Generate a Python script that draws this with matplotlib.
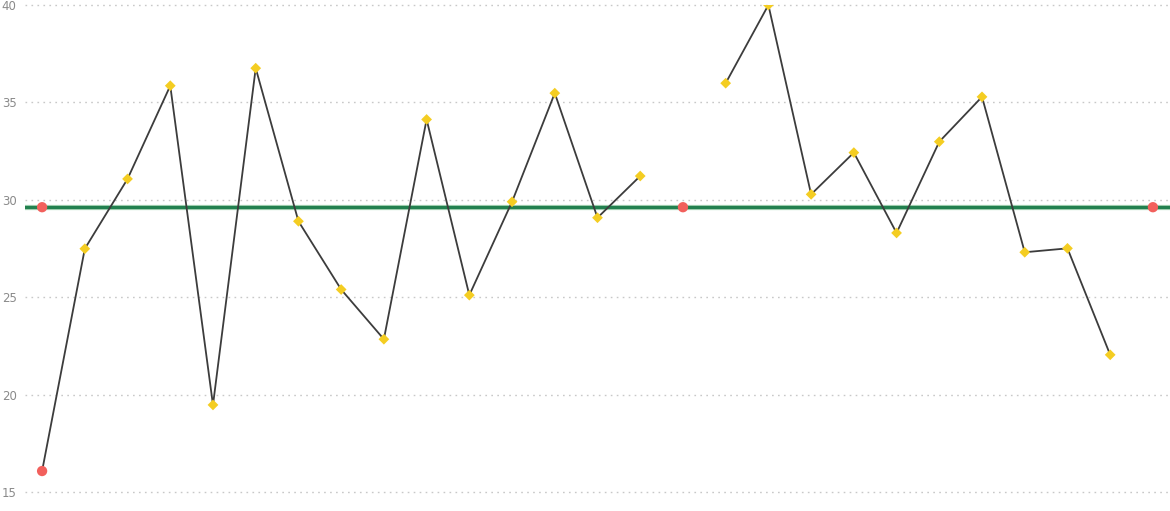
import numpy as np
import matplotlib
matplotlib.use("Agg")
import matplotlib.pyplot as plt

# main series (NaN = no value for that slot)
values = [16.1, 27.5, 31.08, 35.86, 19.49, 36.76, 28.91, 25.41, 22.86, 34.13,
          25.12, 29.91, 35.48, 29.09, 31.23, np.nan, 35.99, 40.0, 30.29, 32.43,
          28.31, 32.99, 35.29, 27.32, 27.52, 22.06, np.nan]
avg_value = 29.63
avg_marker_idx = [0, 15, 26]
y_ticks = [15, 20, 25, 30, 35, 40]

x = np.arange(len(values))
vals = np.array(values, dtype=float)

fig = plt.figure(figsize=(11.7, 5.11), dpi=100)
ax = fig.add_axes([25 / 1170, 0, 1145 / 1170, 506 / 511])

for t in y_ticks:
    ax.axhline(t, color="#c8c8c8", lw=1.0, linestyle=(0, (1.2, 3.1)), zorder=0, clip_on=False)

# average line
ax.axhline(avg_value, color="#b5dcc0", lw=3.8, zorder=1)
ax.axhline(avg_value, color="#22804f", lw=2.4, zorder=2)

ax.plot(x, vals, color="#3c3c3c", lw=1.3, zorder=3)

# yellow diamonds on all points but the first
ax.scatter(x[1:], vals[1:], marker="D", s=30, color="#f4cd22", edgecolors="none", zorder=4)
ax.scatter([x[0]], [vals[0]], marker="o", s=55, color="#f2605c", edgecolors="none", zorder=4)

# markers on average line
ax.scatter(x[avg_marker_idx], [avg_value] * len(avg_marker_idx), marker="o", s=55,
           color="#f2605c", edgecolors="none", zorder=5)

ax.set_xlim(-0.4, 26.4)
ax.set_ylim(14.05, 40)
ax.set_yticks(y_ticks)
ax.set_yticklabels([str(t) for t in y_ticks])
ax.tick_params(axis="y", length=0, pad=6, labelsize=8.5, labelcolor="#8a8a8a")
ax.set_xticks([])
for s in ax.spines.values():
    s.set_visible(False)

fig.savefig("out.png", dpi=100)
